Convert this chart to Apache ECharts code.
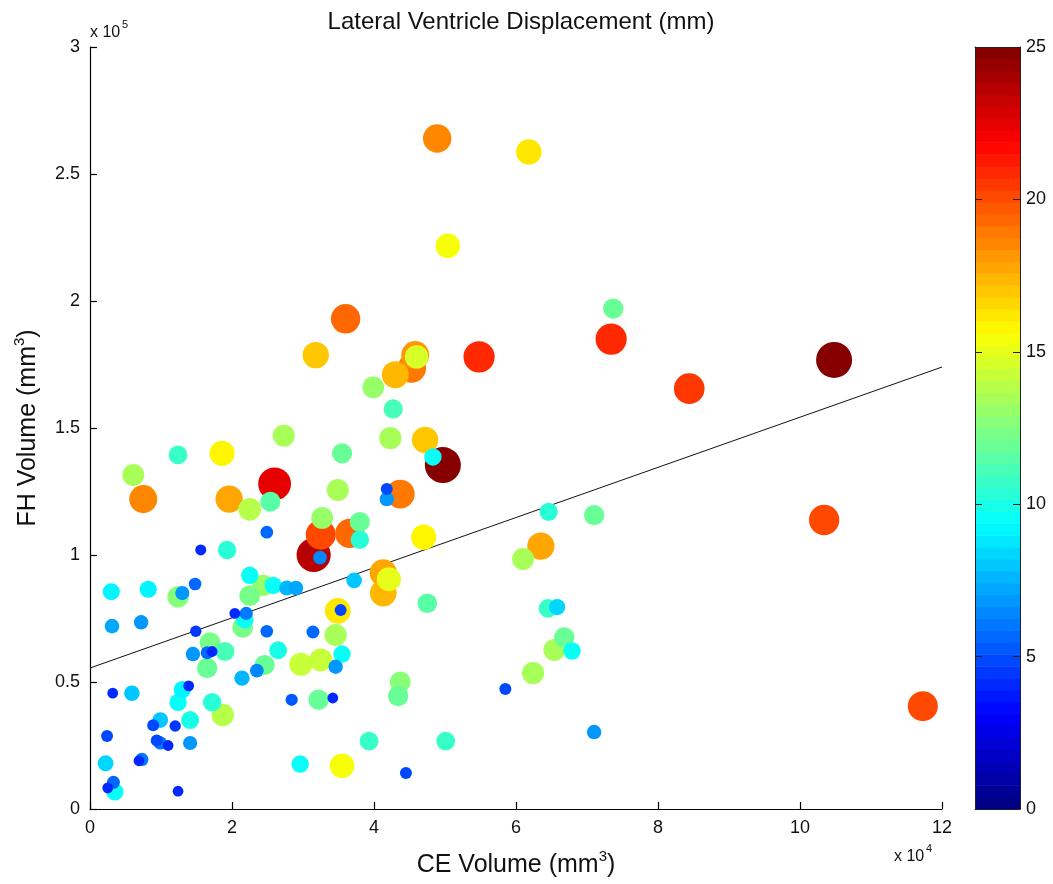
<!DOCTYPE html>
<html>
<head>
<meta charset="utf-8">
<script src="https://cdn.jsdelivr.net/npm/echarts@6/dist/echarts.min.js"></script>
<style>
  html, body { margin: 0; padding: 0; background: #fff; }
  #chart { width: 1053px; height: 884px; }
</style>
</head>
<body>
<div id="chart"></div>
<script>
// Contrast-enhancing tumour volume (mm^3) per case
const ceVolume = [
  6100, 7500, 19600, 22500, 25400, 26000, 24900, 15600, 19300, 3000,
  8200, 12400, 13000, 14800, 22500, 22500, 24400, 25800, 3100, 7200,
  14900, 21500, 21800, 22000, 20400, 24900, 14500, 17200, 16500, 16900,
  16500, 19000, 21400, 23500, 24600, 26500, 3200, 5900, 13900, 13000,
  12400, 17200, 18700, 14100, 8900, 9900, 12000, 2400, 9400, 9900,
  11000, 14100, 2200, 6900, 7300, 3300, 2500, 3500, 12400, 34900,
  41800, 43700, 41800, 32700, 32500, 31500, 32400, 36600, 38000, 38000,
  47000, 27700, 29000, 37200, 41300, 42100, 41300, 47500, 34900, 35300,
  31400, 34600, 35500, 34600, 29700, 32500, 28400, 32200, 34200, 43700,
  43400, 39300, 50100, 29600, 35500, 44500, 12400, 18600, 27300, 35500,
  31800, 36000, 39900, 42700, 42300, 43000, 45300, 45800, 46000, 54800,
  47200, 49700, 48300, 48900, 61800, 50400, 73700, 73400, 64600, 71000,
  63500, 61000, 64500, 65800, 66800, 65400, 67900, 62400, 58500, 71000,
  104800, 84400, 103400, 117300
];
// Frontal horn volume (mm^3) per case
const fhVolume = [
  131500, 122000, 122000, 118000, 121000, 128000, 109000, 102000, 102000, 85500,
  86500, 83500, 85000, 88600, 92000, 84000, 88000, 88000, 72000, 73500,
  70000, 71500, 74500, 77000, 77000, 70000, 61000, 62000, 61500, 65500,
  55500, 62000, 51500, 54500, 56700, 62500, 45600, 45600, 48500, 47000,
  42000, 42000, 37000, 35000, 33000, 35000, 32700, 28700, 27000, 26000,
  25000, 26000, 18000, 19000, 19500, 10500, 8300, 6700, 7000, 125600,
  126000, 124000, 122000, 114600, 108000, 100000, 99000, 108500, 113000, 106000,
  107000, 87000, 87000, 90000, 93000, 90500, 85000, 81000, 78000, 78300,
  69700, 68500, 61000, 56000, 57000, 58700, 43000, 43000, 43700, 50000,
  44500, 26700, 26700, 17700, 17000, 14200, 139400, 140000, 147000, 140000,
  178700, 193000, 166000, 157500, 146000, 171000, 173500, 178700, 178000, 178000,
  145300, 135400, 138600, 264000, 258700, 221700, 197000, 185000, 117000, 115700,
  103500, 98400, 79000, 79500, 67500, 62600, 62200, 53500, 47200, 30300,
  176800, 165500, 113800, 40500
];
// Lateral ventricle displacement (mm) per case
const displacement = [
  13.3, 18.4, 17.8, 14.0, 11.7, 22.3, 5.6, 4.2, 10.3, 9.2,
  9.3, 12.8, 6.8, 5.5, 9.5, 12.4, 13.0, 9.4, 7.2, 7.0,
  4.5, 12.3, 9.5, 6.0, 4.0, 5.5, 7.0, 4.0, 5.8, 12.2,
  11.9, 11.0, 7.8, 6.5, 11.8, 9.8, 4.0, 8.0, 4.0, 9.3,
  9.5, 10.4, 13.7, 10.0, 5.0, 8.0, 4.5, 5.0, 5.0, 6.0,
  4.0, 6.8, 8.3, 4.0, 6.0, 5.8, 4.0, 9.4, 4.0, 13.5,
  5.0, 19.0, 7.0, 13.2, 20.0, 23.5, 6.5, 19.5, 11.8, 10.4,
  16.0, 7.5, 7.2, 8.0, 17.7, 15.0, 17.2, 11.4, 16.4, 5.0,
  5.8, 13.5, 9.5, 7.0, 14.3, 14.2, 5.2, 12.0, 4.0, 12.5,
  12.0, 10.6, 10.6, 9.5, 15.5, 5.0, 10.6, 16.0, 13.3, 11.8,
  17.0, 19.5, 13.2, 11.0, 13.5, 17.5, 19.0, 18.3, 14.5, 21.0,
  17.0, 25.0, 9.5, 18.7, 16.2, 15.5, 12.0, 21.0, 10.3, 12.0,
  17.7, 13.3, 10.6, 8.5, 12.0, 13.3, 9.5, 13.5, 5.0, 7.0,
  25.0, 20.5, 20.3, 20.0
];

// Least-squares fit line end points (CE volume, FH volume)
const fitLine = [[0, 55500], [120000, 174000]];

// Tick labels
const xTickLabels = ['0', '2', '4', '6', '8', '10', '12'];
const yTickLabels = ['0', '0.5', '1', '1.5', '2', '2.5', '3'];
const colorTickLabels = ['0', '5', '10', '15', '20', '25'];

const xStep = 20000, yStep = 50000, cStep = 5, cMax = 25;
const FONT = '"Liberation Sans", Arial, Helvetica, sans-serif';
const TXT = '#111';

// Jet colour map with 64 levels
const LEVELS = 64;
function jet(t) {
  const c = x => Math.max(0, Math.min(1, x));
  const r = c(1.5 - Math.abs(4 * t - 3));
  const g = c(1.5 - Math.abs(4 * t - 2));
  const b = c(1.5 - Math.abs(4 * t - 1));
  return 'rgb(' + Math.round(r * 255) + ',' + Math.round(g * 255) + ',' + Math.round(b * 255) + ')';
}
function levelOf(v) {
  return Math.max(0, Math.min(LEVELS - 1, Math.floor(v / cMax * LEVELS)));
}
function levelColor(i) { return jet((i + 0.5) / LEVELS); }

// Larger displacement drawn first so smaller markers stay visible on top
const order = displacement.map((_, i) => i).sort((a, b) => displacement[b] - displacement[a]);
const points = order.map(i => [ceVolume[i], fhVolume[i], displacement[i]]);

// Colour bar bands
const bands = [];
for (let i = 0; i < LEVELS; i++) bands.push([0.5, i * cMax / LEVELS, (i + 1) * cMax / LEVELS, i]);

const chart = echarts.init(document.getElementById('chart'), null, { renderer: 'canvas' });

const supRich = {
  a: { fontSize: 25, fontFamily: FONT, color: TXT },
  s: { fontSize: 15, fontFamily: FONT, color: TXT, verticalAlign: 'bottom', padding: [0, 0, 17, 0] }
};

chart.setOption({
  animation: false,
  backgroundColor: '#fff',
  textStyle: { fontFamily: FONT },
  title: {
    text: 'Lateral Ventricle Displacement (mm)',
    left: 516, top: 5, textAlign: 'center',
    textStyle: { fontFamily: FONT, fontSize: 24, fontWeight: 'normal', color: TXT }
  },
  grid: [
    { left: 90, top: 47, width: 852, height: 762 },
    { left: 975, top: 47, width: 45, height: 762 }
  ],
  xAxis: [
    {
      gridIndex: 0, type: 'value', min: 0, max: 120000, interval: xStep,
      axisLine: { show: true, lineStyle: { color: '#000', width: 1.2 } },
      axisTick: { show: true, inside: true, length: 7, lineStyle: { color: '#000', width: 1.2 } },
      splitLine: { show: false },
      axisLabel: { fontSize: 18, color: TXT, margin: 10, fontFamily: FONT,
        formatter: v => xTickLabels[Math.round(v / xStep)] },
      name: '{a|CE Volume (mm}{s|3}{a|)}',
      nameLocation: 'middle', nameGap: 40,
      nameTextStyle: { rich: supRich }
    },
    {
      gridIndex: 1, type: 'value', min: 0, max: 1, position: 'bottom', z: 5,
      axisLine: { show: true, onZero: false, lineStyle: { color: '#222', width: 1 } },
      axisTick: { show: false }, axisLabel: { show: false }, splitLine: { show: false }
    },
    {
      gridIndex: 1, type: 'value', min: 0, max: 1, position: 'top', z: 5,
      axisLine: { show: true, onZero: false, lineStyle: { color: '#222', width: 1 } },
      axisTick: { show: false }, axisLabel: { show: false }, splitLine: { show: false }
    }
  ],
  yAxis: [
    {
      gridIndex: 0, type: 'value', min: 0, max: 300000, interval: yStep,
      axisLine: { show: true, lineStyle: { color: '#000', width: 1.2 } },
      axisTick: { show: true, inside: true, length: 7, lineStyle: { color: '#000', width: 1.2 } },
      splitLine: { show: false },
      axisLabel: { fontSize: 18, color: TXT, margin: 10, fontFamily: FONT,
        formatter: v => yTickLabels[Math.round(v / yStep)] },
      name: '{a|FH Volume (mm}{s|3}{a|)}',
      nameLocation: 'middle', nameGap: 46, nameRotate: 90,
      nameTextStyle: { rich: supRich }
    },
    {
      gridIndex: 1, type: 'value', min: 0, max: cMax, interval: cStep, position: 'right', z: 5,
      axisLine: { show: true, onZero: false, lineStyle: { color: '#222', width: 1 } },
      axisTick: { show: true, inside: true, length: 7, lineStyle: { color: '#222', width: 1 } },
      splitLine: { show: false },
      axisLabel: { fontSize: 18, color: TXT, margin: 6, fontFamily: FONT,
        formatter: v => colorTickLabels[Math.round(v / cStep)] }
    },
    {
      gridIndex: 1, type: 'value', min: 0, max: cMax, interval: cStep, position: 'left', z: 5,
      axisLine: { show: true, onZero: false, lineStyle: { color: '#222', width: 1 } },
      axisTick: { show: true, inside: true, length: 7, lineStyle: { color: '#222', width: 1 } },
      splitLine: { show: false }, axisLabel: { show: false }
    }
  ],
  graphic: [
    { type: 'text', x: 90, y: 25, style: { text: 'x 10', font: '16px ' + FONT, fill: TXT } },
    { type: 'text', x: 122, y: 19, style: { text: '5', font: '11px ' + FONT, fill: TXT } },
    { type: 'text', x: 894, y: 849, style: { text: 'x 10', font: '16px ' + FONT, fill: TXT } },
    { type: 'text', x: 926, y: 843, style: { text: '4', font: '11px ' + FONT, fill: TXT } }
  ],
  series: [
    {
      type: 'custom', xAxisIndex: 1, yAxisIndex: 1, silent: true,
      data: bands,
      encode: { x: 0, y: [1, 2] },
      renderItem: (params, api) => {
        const lo = api.coord([0, api.value(1)]);
        const hi = api.coord([1, api.value(2)]);
        return {
          type: 'rect',
          shape: { x: lo[0], y: hi[1], width: hi[0] - lo[0], height: lo[1] - hi[1] + 0.6 },
          style: { fill: levelColor(api.value(3)) }
        };
      }
    },
    {
      type: 'line', xAxisIndex: 0, yAxisIndex: 0, data: fitLine,
      symbol: 'none', silent: true, z: 1,
      lineStyle: { color: '#111', width: 1 }
    },
    {
      type: 'scatter', xAxisIndex: 0, yAxisIndex: 0, data: points, z: 2,
      symbolSize: d => 6 + 1.2 * d[2],
      itemStyle: { color: p => levelColor(levelOf(p.data[2])), opacity: 1 }
    }
  ]
});
</script>
</body>
</html>
